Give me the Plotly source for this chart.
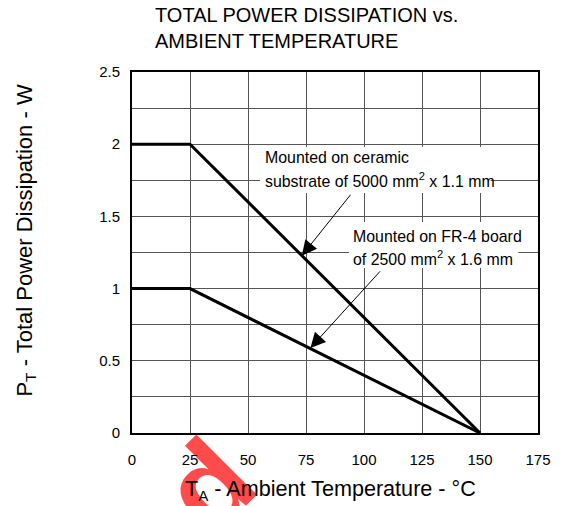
import plotly.graph_objects as go

# Derating curves: ambient temperature (°C) vs. allowed total power dissipation (W)
temp_ceramic = [0, 25, 150]
power_ceramic = [2.0, 2.0, 0.0]

temp_fr4 = [0, 25, 150]
power_fr4 = [1.0, 1.0, 0.0]

x_ticks = [0, 25, 50, 75, 100, 125, 150, 175]
y_ticks = [0, 0.5, 1, 1.5, 2, 2.5]

FONT = "Liberation Sans, Arial, sans-serif"
W, H = 563, 506
ML, MR, MT, MB = 132, 19, 72, 73
PW, PH = W - ML - MR, H - MT - MB


def px_to_paper(px, py):
    """Convert page pixel coordinates to plot-area paper coordinates."""
    return (px - ML) / PW, (H - MB - py) / PH


fig = go.Figure()

for tx, pw in [(temp_ceramic, power_ceramic), (temp_fr4, power_fr4)]:
    fig.add_trace(go.Scatter(
        x=tx, y=pw, mode="lines",
        line=dict(color="black", width=3),
        hoverinfo="skip", showlegend=False,
    ))

shapes = []
# faint watermark behind the plot area
wx, wy = px_to_paper(178, 501)
shapes.append(dict(
    type="rect", xref="paper", yref="paper",
    x0=wx - 0.05, x1=wx + 0.05, y0=wy - 0.05, y1=wy + 0.05,
    line=dict(width=0), fillcolor="rgba(0,0,0,0)", layer="below",
    label=dict(text="<b>ed</b>", textangle=-45, textposition="middle center",
               font=dict(family=FONT, size=118, color="rgb(255,75,75)")),
))
# white plot area drawn over the watermark
shapes.append(dict(
    type="rect", xref="paper", yref="paper", x0=0, x1=1, y0=0, y1=1,
    line=dict(width=0), fillcolor="white", layer="below",
))
# white backing boxes behind the callout texts (above gridlines)
shapes.append(dict(type="rect", xref="x", yref="y", x0=55.2, x1=154.6, y0=1.662, y1=1.98,
                   line=dict(width=0), fillcolor="white", layer="between"))
shapes.append(dict(type="rect", xref="x", yref="y", x0=93.5, x1=166.5, y0=1.143, y1=1.461,
                   line=dict(width=0), fillcolor="white", layer="between"))

ann_font = dict(family=FONT, size=15.9, color="black")
annotations = [
    dict(x=56.5, y=1.911, xref="x", yref="y", text="Mounted on ceramic",
         showarrow=False, xanchor="left", yanchor="middle", font=ann_font),
    dict(x=56.5, y=1.752, xref="x", yref="y", text="substrate of 5000 mm<sup>2</sup> x 1.1 mm",
         showarrow=False, xanchor="left", yanchor="middle", font=ann_font),
    dict(x=94.3, y=1.364, xref="x", yref="y", text="Mounted on FR-4 board",
         showarrow=False, xanchor="left", yanchor="middle", font=ann_font),
    dict(x=94.3, y=1.212, xref="x", yref="y", text="of 2500 mm<sup>2</sup> x 1.6 mm",
         showarrow=False, xanchor="left", yanchor="middle", font=ann_font),
    # callout arrows
    dict(x=73.2, y=1.228, ax=94.7, ay=1.66, xref="x", yref="y", axref="x", ayref="y",
         text="", showarrow=True, arrowhead=2, arrowsize=3, arrowwidth=1,
         arrowcolor="black", standoff=0, startstandoff=0),
    dict(x=76.9, y=0.589, ax=107.5, ay=1.13, xref="x", yref="y", axref="x", ayref="y",
         text="", showarrow=True, arrowhead=2, arrowsize=3, arrowwidth=1,
         arrowcolor="black", standoff=0, startstandoff=0),
]

# chart title
ttx, tty = px_to_paper(153, 28)
annotations.append(dict(
    x=ttx, y=tty, xref="paper", yref="paper", showarrow=False,
    text="TOTAL POWER DISSIPATION vs.<br>AMBIENT TEMPERATURE",
    xanchor="left", yanchor="middle", align="left",
    font=dict(family=FONT, size=20, color="black"),
))

# axis titles
tx_, ty_ = px_to_paper(333, 490)
annotations.append(dict(
    x=tx_, y=ty_, xref="paper", yref="paper", showarrow=False,
    text="T<sub>A</sub> - Ambient Temperature - °C",
    xanchor="center", yanchor="middle",
    font=dict(family=FONT, size=21.6, color="black"),
))
yx_, yy_ = px_to_paper(24, 241)
annotations.append(dict(
    x=yx_, y=yy_, xref="paper", yref="paper", showarrow=False,
    text="P<sub>T</sub> - Total Power Dissipation - W", textangle=-90,
    xanchor="center", yanchor="middle",
    font=dict(family=FONT, size=22, color="black"),
))

axis_common = dict(
    showline=True, mirror=True, linecolor="black", linewidth=2,
    showgrid=True, gridcolor="#555555", gridwidth=1,
    zeroline=False, ticks="", color="black",
    tickfont=dict(family=FONT, size=15, color="black"),
)

fig.update_layout(
    width=W, height=H,
    margin=dict(l=ML, r=MR, t=MT, b=MB, pad=0),
    paper_bgcolor="white", plot_bgcolor="white",
    font=dict(family=FONT, color="black"),
    xaxis=dict(range=[0, 175], tickvals=x_ticks, ticktext=[str(v) for v in x_ticks],
               ticklabelstandoff=12, **axis_common),
    yaxis=dict(range=[0, 2.5], tickvals=y_ticks, ticktext=[f"{v:g}" for v in y_ticks],
               ticklabelstandoff=7, **axis_common),
    shapes=shapes,
    annotations=annotations,
)

# minor grid at 0.25 W on the power axis
fig.update_yaxes(minor=dict(dtick=0.25, tick0=0, showgrid=True, gridcolor="#555555", gridwidth=1))

fig.write_html("out.html")
